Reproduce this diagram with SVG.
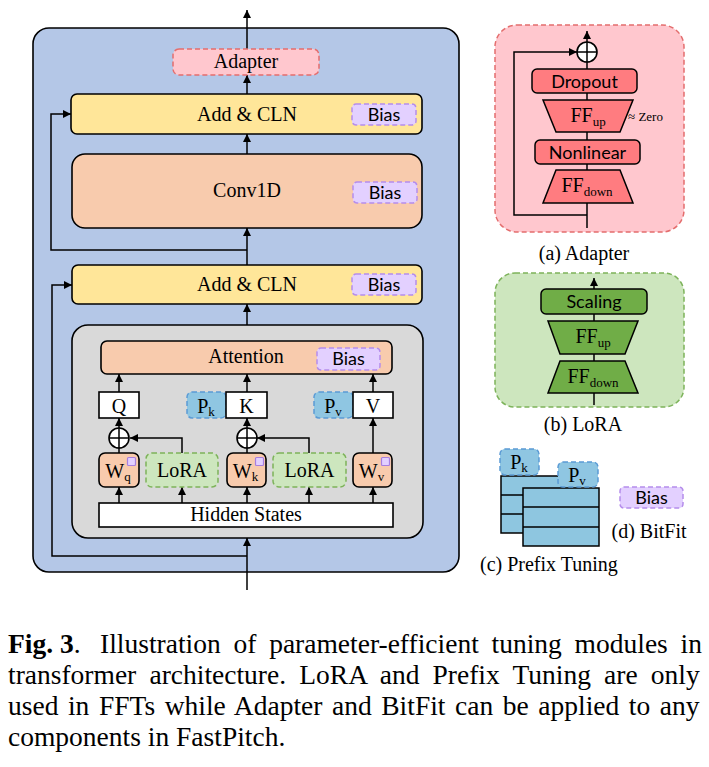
<svg xmlns="http://www.w3.org/2000/svg" width="709" height="767" viewBox="0 0 709 767">
<defs>
<marker id="ah" markerUnits="userSpaceOnUse" markerWidth="9" markerHeight="8" refX="8" refY="4" orient="auto">
<path d="M0,0 L8,4 L0,8 z" fill="#000"/>
</marker>
<style>
.ser{font-family:"Liberation Serif","Times New Roman",serif;fill:#000;}
.san{font-family:Lato,"Open Sans",sans-serif;fill:#000;}
.c{text-anchor:middle;}
.ln{fill:none;stroke:#000;stroke-width:1.5;}
.ar{fill:none;stroke:#000;stroke-width:1.5;marker-end:url(#ah);}
.bx{stroke:#000;stroke-width:1.6;}
.yel{fill:#FFE699;}
.org{fill:#F8CBAD;}
.wht{fill:#FFFFFF;}
.bias{fill:#E3D0FF;stroke:#B58DEB;stroke-width:1.5;stroke-dasharray:5,3;}
.pre{fill:#8FC6E2;stroke:#5B9BD5;stroke-width:1.5;stroke-dasharray:5,3;}
.lor{fill:#CDE6BE;stroke:#7DB35A;stroke-width:1.5;stroke-dasharray:5,3;}
.adp{fill:#FFC7CE;stroke:#E46E6E;stroke-width:1.5;stroke-dasharray:5,3;}
.red{fill:#FF7C80;stroke:#000;stroke-width:1.5;}
.grn{fill:#70AD47;stroke:#000;stroke-width:1.5;}
.stk{fill:#8EC6E0;stroke:#000;stroke-width:1.5;}
</style>
</defs>

<!-- containers -->
<g id="ffn-block">
<rect x="33" y="28" width="426" height="544" rx="16" fill="#B4C7E7" stroke="#000" stroke-width="1.6"/>
</g>
<g id="attention-block">
<rect x="72" y="325" width="351" height="213" rx="16" fill="#D9D9D9" stroke="#000" stroke-width="1.6"/>
</g>
<g id="panel-adapter">
<rect x="495" y="25" width="189" height="207" rx="22" class="adp"/>
</g>
<g id="panel-lora">
<rect x="495" y="273" width="189" height="134" rx="20" class="lor"/>
</g>

<!-- connectors -->
<g id="connectors">
<path class="ar" d="M247,49 L247,10"/>
<path class="ar" d="M247,94 L247,75"/>
<path class="ar" d="M247,154 L247,134"/>
<path class="ar" d="M247,265 L247,228"/>
<path class="ar" d="M247,250 L51,250 L51,114 L71,114"/>
<path class="ar" d="M247,325 L247,304"/>
<path class="ar" d="M247,556 L52,556 L52,285 L72,285"/>
<path class="ar" d="M247,590 L247,538"/>
<path class="ar" d="M119,392 L119,374"/>
<path class="ar" d="M247,392 L247,374"/>
<path class="ar" d="M373,392 L373,374"/>
<path class="ar" d="M119,428 L119,418"/>
<path class="ar" d="M247,428 L247,418"/>
<path class="ln" d="M119,453 L119,448"/>
<path class="ln" d="M247,453 L247,448"/>
<path class="ar" d="M182,453 L182,438 L130,438"/>
<path class="ar" d="M309,453 L309,438 L257,438"/>
<path class="ar" d="M373,453 L373,418"/>
<path class="ar" d="M119,503 L119,487"/>
<path class="ar" d="M182,503 L182,487"/>
<path class="ar" d="M247,503 L247,487"/>
<path class="ar" d="M309,503 L309,487"/>
<path class="ar" d="M373,503 L373,487"/>
<!-- adapter panel -->
<path class="ln" d="M587,228 L587,62"/>
<path class="ar" d="M587,42 L587,31"/>
<path class="ar" d="M587,215 L514,215 L514,52 L577,52"/>
<!-- lora panel -->
<path class="ar" d="M594,405 L594,278"/>
</g>

<!-- main nodes -->
<g id="adapter">
<rect x="173" y="49" width="146" height="26" rx="6" class="adp"/>
<text class="ser c" x="246" y="68" font-size="20">Adapter</text>
</g>
<g id="add-cln-1">
<rect x="71" y="94" width="351" height="40" rx="6" class="bx yel"/>
<text class="ser c" x="247" y="121" font-size="20">Add &amp; CLN</text>
<rect x="352" y="104" width="64" height="21" rx="4" class="bias"/>
<text class="san c" x="384" y="121" font-size="18">Bias</text>
</g>
<g id="conv1d">
<rect x="72" y="154" width="350" height="74" rx="13" class="bx org"/>
<text class="ser c" x="247" y="197" font-size="20">Conv1D</text>
<rect x="353" y="182" width="64" height="21" rx="4" class="bias"/>
<text class="san c" x="385" y="199" font-size="18">Bias</text>
</g>
<g id="add-cln-2">
<rect x="72" y="265" width="350" height="39" rx="6" class="bx yel"/>
<text class="ser c" x="247" y="291" font-size="20">Add &amp; CLN</text>
<rect x="352" y="274" width="64" height="21" rx="4" class="bias"/>
<text class="san c" x="384" y="291" font-size="18">Bias</text>
</g>
<g id="attention">
<rect x="101" y="341" width="291" height="33" rx="6" class="bx org"/>
<text class="ser c" x="246" y="363" font-size="20">Attention</text>
<rect x="317" y="348" width="63" height="22" rx="4" class="bias"/>
<text class="san c" x="348.5" y="365" font-size="18">Bias</text>
</g>
<g id="q">
<rect x="99" y="392" width="40" height="26" class="bx wht"/>
<text class="ser c" x="119" y="413" font-size="20">Q</text>
</g>
<g id="pk">
<rect x="187" y="392" width="39" height="26" rx="5" class="pre"/>
<text class="ser c" x="206" y="413" font-size="20">P<tspan font-size="13" dy="3">k</tspan></text>
</g>
<g id="k">
<rect x="226" y="392" width="41" height="26" class="bx wht"/>
<text class="ser c" x="246.5" y="413" font-size="20">K</text>
</g>
<g id="pv">
<rect x="314" y="392" width="39" height="26" rx="5" class="pre"/>
<text class="ser c" x="333" y="413" font-size="20">P<tspan font-size="13" dy="3">v</tspan></text>
</g>
<g id="v">
<rect x="353" y="392" width="40" height="26" class="bx wht"/>
<text class="ser c" x="373" y="413" font-size="20">V</text>
</g>
<g id="plus-q">
<circle cx="119" cy="438" r="10" fill="#fff" stroke="#000" stroke-width="1.6"/>
<path class="ln" d="M109,438 L129,438 M119,428 L119,448"/>
</g>
<g id="plus-k">
<circle cx="247" cy="438" r="10" fill="#fff" stroke="#000" stroke-width="1.6"/>
<path class="ln" d="M237,438 L257,438 M247,428 L247,448"/>
</g>
<g id="wq">
<rect x="99" y="453" width="40" height="34" rx="6" class="bx org"/>
<rect x="127.5" y="457.5" width="8" height="8" rx="1" fill="#E3D0FF" stroke="#A77FE0" stroke-width="1.2"/>
<text class="ser c" x="118" y="478" font-size="20">W<tspan font-size="13" dy="3">q</tspan></text>
</g>
<g id="lora-1">
<rect x="146" y="453" width="72" height="34" rx="6" class="lor"/>
<text class="ser c" x="182" y="477" font-size="20">LoRA</text>
</g>
<g id="wk">
<rect x="227" y="453" width="39" height="34" rx="6" class="bx org"/>
<rect x="255.5" y="457.5" width="8" height="8" rx="1" fill="#E3D0FF" stroke="#A77FE0" stroke-width="1.2"/>
<text class="ser c" x="245.5" y="478" font-size="20">W<tspan font-size="13" dy="3">k</tspan></text>
</g>
<g id="lora-2">
<rect x="273" y="453" width="73" height="34" rx="6" class="lor"/>
<text class="ser c" x="309.5" y="477" font-size="20">LoRA</text>
</g>
<g id="wv">
<rect x="353" y="453" width="39" height="34" rx="6" class="bx org"/>
<rect x="381.5" y="457.5" width="8" height="8" rx="1" fill="#E3D0FF" stroke="#A77FE0" stroke-width="1.2"/>
<text class="ser c" x="371.5" y="478" font-size="20">W<tspan font-size="13" dy="3">v</tspan></text>
</g>
<g id="hidden-states">
<rect x="99" y="503" width="294" height="24" class="bx wht"/>
<text class="ser c" x="246" y="521" font-size="20">Hidden States</text>
</g>

<!-- adapter panel nodes -->
<g id="a-plus">
<circle cx="587" cy="52" r="10" fill="#fff" stroke="#000" stroke-width="1.6"/>
<path class="ln" d="M577,52 L597,52 M587,42 L587,62"/>
</g>
<g id="a-dropout">
<rect x="532" y="69" width="105" height="24" rx="5" class="red"/>
<text class="san c" x="584.5" y="88" font-size="18">Dropout</text>
</g>
<g id="a-ffup">
<polygon points="543,100 633,100 620,132 556,132" class="red"/>
<text class="ser c" x="588" y="122" font-size="20">FF<tspan font-size="13" dy="4">up</tspan></text>
</g>
<text class="ser" x="628" y="121" font-size="13">≈ Zero</text>
<g id="a-nonlinear">
<rect x="535" y="140" width="105" height="24" rx="5" class="red"/>
<text class="san c" x="587.5" y="159" font-size="18">Nonlinear</text>
</g>
<g id="a-ffdown">
<polygon points="556,170 620,170 633,203 543,203" class="red"/>
<text class="ser c" x="587" y="192" font-size="20">FF<tspan font-size="13" dy="4">down</tspan></text>
</g>
<text class="ser c" x="584" y="260" font-size="20">(a) Adapter</text>

<!-- lora panel nodes -->
<g id="l-scaling">
<rect x="541" y="289" width="106" height="25" rx="5" class="grn"/>
<text class="san c" x="594" y="308" font-size="18">Scaling</text>
</g>
<g id="l-ffup">
<polygon points="548,321 638,321 625,354 560,354" class="grn"/>
<text class="ser c" x="593" y="343" font-size="20">FF<tspan font-size="13" dy="4">up</tspan></text>
</g>
<g id="l-ffdown">
<polygon points="560,361 625,361 638,393 548,393" class="grn"/>
<text class="ser c" x="593" y="383" font-size="20">FF<tspan font-size="13" dy="4">down</tspan></text>
</g>
<text class="ser c" x="583" y="431" font-size="20">(b) LoRA</text>

<!-- prefix tuning -->
<g id="prefix-k">
<rect x="501" y="476" width="76" height="57" class="stk"/>
<path class="ln" d="M501,495 L577,495 M501,514 L577,514"/>
<rect x="500" y="449" width="39" height="26" rx="5" class="pre"/>
<text class="ser c" x="519" y="469" font-size="20">P<tspan font-size="13" dy="3">k</tspan></text>
</g>
<g id="prefix-v">
<rect x="523" y="488" width="76" height="58" class="stk"/>
<path class="ln" d="M523,507 L599,507 M523,527 L599,527"/>
<rect x="558" y="462" width="40" height="25" rx="5" class="pre"/>
<text class="ser c" x="577" y="482" font-size="20">P<tspan font-size="13" dy="3">v</tspan></text>
</g>
<text class="ser" x="480" y="571" font-size="20">(c) Prefix Tuning</text>

<!-- bitfit -->
<g id="bitfit">
<rect x="620" y="487" width="63" height="21" rx="4" class="bias"/>
<text class="san c" x="651.5" y="504" font-size="18">Bias</text>
</g>
<text class="ser c" x="649" y="538" font-size="20">(d) BitFit</text>

<!-- caption -->
<g id="caption" font-size="27.5">
<text class="ser" x="8" y="653"><tspan font-weight="bold">Fig. 3</tspan>.</text>
<text class="ser" x="100" y="653" word-spacing="5.9">Illustration of parameter-efficient tuning modules in</text>
<text class="ser" x="8" y="684" word-spacing="6.3">transformer architecture. LoRA and Prefix Tuning are only</text>
<text class="ser" x="8" y="715" word-spacing="2.7">used in FFTs while Adapter and BitFit can be applied to any</text>
<text class="ser" x="8" y="746">components in FastPitch.</text>
</g>
</svg>
